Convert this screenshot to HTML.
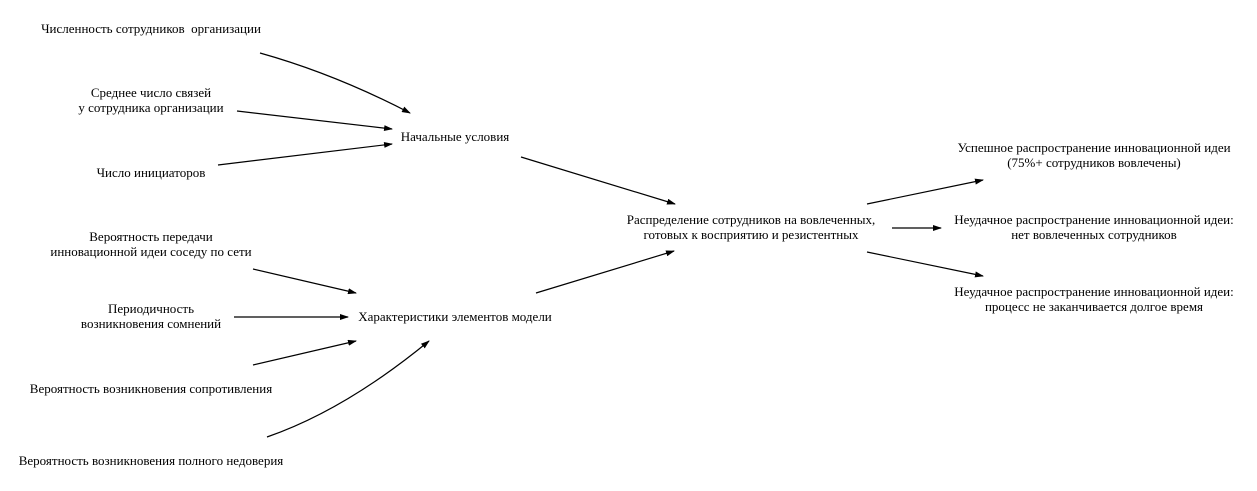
<!DOCTYPE html>
<html><head><meta charset="utf-8"><style>
html,body{margin:0;padding:0;background:#fff;}
svg{display:block;}
text{font-family:"Liberation Serif","DejaVu Serif",serif;font-size:13px;fill:#000;text-anchor:middle;white-space:pre;}
</style></head><body>
<svg width="1257" height="491" viewBox="0 0 1257 491" xmlns="http://www.w3.org/2000/svg">
<defs><marker id="a" markerWidth="9" markerHeight="6" refX="8" refY="3" orient="auto" markerUnits="userSpaceOnUse"><path d="M0,0 L9,3 L0,6 z" fill="#000"/></marker></defs>
<g stroke="#000" stroke-width="1.2" fill="none" marker-end="url(#a)">
<path d="M260,53 Q335,74 410,113"/>
<path d="M237,111 L392,129"/>
<path d="M218,165 L392,144"/>
<path d="M521,157 L675,204"/>
<path d="M536,293 L674,251"/>
<path d="M253,269 L356,293"/>
<path d="M234,317 L348,317"/>
<path d="M253,365 L356,341"/>
<path d="M267,437 Q345,410 429,341"/>
<path d="M867,204 L983,180"/>
<path d="M892,228 L941,228"/>
<path d="M867,252 L983,276"/>
</g>
<text x="151" y="33" xml:space="preserve">Численность сотрудников  организации</text>
<text x="151" y="97">Среднее число связей</text>
<text x="151" y="112">у сотрудника организации</text>
<text x="151" y="177">Число инициаторов</text>
<text x="455" y="141">Начальные условия</text>
<text x="151" y="241">Вероятность передачи</text>
<text x="151" y="256">инновационной идеи соседу по сети</text>
<text x="151" y="313">Периодичность</text>
<text x="151" y="328">возникновения сомнений</text>
<text x="151" y="393">Вероятность возникновения сопротивления</text>
<text x="151" y="465">Вероятность возникновения полного недоверия</text>
<text x="455" y="321">Характеристики элементов модели</text>
<text x="751" y="224">Распределение сотрудников на вовлеченных,</text>
<text x="751" y="239">готовых к восприятию и резистентных</text>
<text x="1094" y="152">Успешное распространение инновационной идеи</text>
<text x="1094" y="167">(75%+ сотрудников вовлечены)</text>
<text x="1094" y="224">Неудачное распространение инновационной идеи:</text>
<text x="1094" y="239">нет вовлеченных сотрудников</text>
<text x="1094" y="296">Неудачное распространение инновационной идеи:</text>
<text x="1094" y="311">процесс не заканчивается долгое время</text>
</svg>
</body></html>
